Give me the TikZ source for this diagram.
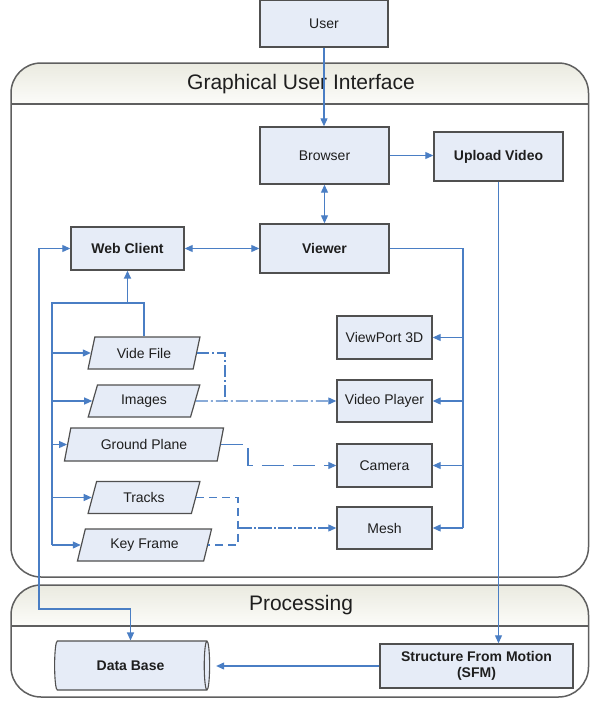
\documentclass[tikz,border=0pt]{standalone}
\usepackage{fontspec}
\setmainfont{Liberation Sans}
\usetikzlibrary{arrows.meta,shapes.geometric,calc}

\definecolor{boxfill}{RGB}{230,236,247}
\definecolor{boxline}{RGB}{80,80,80}
\definecolor{flowblue}{RGB}{74,126,196}
\definecolor{contline}{RGB}{95,95,95}
\definecolor{headtop}{RGB}{234,234,224}
\definecolor{headbot}{RGB}{252,252,249}
\definecolor{txt}{RGB}{30,30,30}

\begin{document}
\begin{tikzpicture}[x=1pt,y=1pt,
  font=\fontsize{14}{16}\selectfont, text=txt,
  blk/.style={draw=boxline, line width=1.4pt, fill=boxfill, inner sep=0pt, align=center},
  bold/.style={font=\fontsize{14}{16}\selectfont\bfseries},
  para/.style={trapezium, trapezium left angle=70, trapezium right angle=110,
    trapezium stretches=true, draw=boxline, line width=1.2pt, fill=boxfill,
    inner sep=0pt, minimum height=32pt},
  title/.style={font=\fontsize{21}{24}\selectfont},
  cont/.style={draw=contline, line width=1.5pt, rounded corners=30pt},
  flow/.style={draw=flowblue, line width=1.1pt},
  flowthick/.style={draw=flowblue, line width=1.7pt},
  tip/.style={-{Triangle[length=8pt,width=7pt]}},
  tips/.style={{Triangle[length=8pt,width=7pt]}-{Triangle[length=8pt,width=7pt]}},
  dashdot/.style={dash pattern=on 12pt off 3pt on 2pt off 3pt},
  longdash/.style={dash pattern=on 22pt off 9pt},
  shortdash/.style={dash pattern=on 8pt off 5pt},
  meshdash/.style={dash pattern=on 14pt off 2pt on 2pt off 2pt}
]
\useasboundingbox (0,0) rectangle (590,-704);

% ---- containers ----
\fill[white, rounded corners=30pt] (11,-63) rectangle (588.5,-577);
\begin{scope}
  \clip[rounded corners=30pt] (11,-63) rectangle (588.5,-577);
  \shade[top color=headtop, bottom color=headbot] (11,-63) rectangle (588.5,-104);
\end{scope}
\draw[contline, line width=1.5pt] (11,-104) -- (588.5,-104);
\draw[cont] (11,-63) rectangle (588.5,-577);
\node[title] (guititle) at (301,-84) {Graphical User Interface};

\fill[white, rounded corners=30pt] (11,-585) rectangle (588.5,-697);
\begin{scope}
  \clip[rounded corners=30pt] (11,-585) rectangle (588.5,-697);
  \shade[top color=headtop, bottom color=headbot] (11,-585) rectangle (588.5,-626);
\end{scope}
\draw[contline, line width=1.5pt] (11,-626) -- (588.5,-626);
\draw[cont] (11,-585) rectangle (588.5,-697);
\node[title] (proctitle) at (301,-605.5) {Processing};

% ---- boxes ----
\node[blk, minimum width=128pt, minimum height=47pt] (user) at (324,-23.5) {User};
\node[blk, minimum width=129pt, minimum height=57pt] (br) at (324.5,-155.5) {Browser};
\node[blk, bold, minimum width=129pt, minimum height=49pt] (up) at (498.5,-156.5) {Upload Video};
\node[blk, bold, minimum width=129pt, minimum height=49pt] (vw) at (324.5,-248.5) {Viewer};
\node[blk, bold, minimum width=113pt, minimum height=43pt] (wc) at (127.5,-248.5) {Web Client};

\node[blk, minimum width=95pt, minimum height=43pt] (vp) at (384.5,-337.5) {ViewPort 3D};
\node[blk, minimum width=95pt, minimum height=42pt] (vpl) at (384.5,-401) {Video Player};
\node[blk, minimum width=95pt, minimum height=43pt] (cam) at (384.5,-465.5) {Camera};
\node[blk, minimum width=95pt, minimum height=42pt] (mesh) at (384.5,-528) {Mesh};

\node[para, minimum width=112pt] (vf) at (144,-353) {Vide File};
\node[para, minimum width=112pt] (img) at (144,-401) {Images};
\node[para, minimum width=160pt, minimum height=33pt] (gp) at (144,-444.5) {Ground Plane};
\node[para, minimum width=112pt] (tr) at (144,-497.5) {Tracks};
\node[para, minimum width=135pt] (kf) at (144.5,-545) {Key Frame};

\node[blk, bold, minimum width=193pt, minimum height=44pt] (sfm) at (476.5,-666)
  {Structure From Motion\\(SFM)};
% horizontal cylinder: its size keys follow the shape's own axis
\node[cylinder, draw=boxline, line width=1.1pt, fill=boxfill, bold,
  minimum width=49pt, minimum height=155pt, aspect=0.55, inner sep=0pt] (db)
  at (130.5,-665.5) {Data Base};

% ---- connectors ----
\draw[flow, tip] (user.south) -- (user.south |- br.north);
\draw[flow, tip] (br.east) -- (br.east -| up.west);
\draw[flow, tips] (br.south) -- (br.south |- vw.north);
\draw[flow, tips] (wc.east) -- (vw.west);

\coordinate (rb) at (463,-528);
\draw[flowthick] (vw.east) -| (rb);
\draw[flow, tip] (vp.east -| rb) -- (vp.east);
\draw[flow, tip] (vpl.east -| rb) -- (vpl.east);
\draw[flow, tip] (cam.east -| rb) -- (cam.east);
\draw[flow, tip] (mesh.east -| rb) -- (mesh.east);

\draw[flow, tip] (up.south) -- (up.south |- sfm.north);
\draw[flow, tip, shorten >=6pt] (sfm.west) -- (sfm.west -| db.east);

\coordinate (ob) at (39,-609);
\draw[flow, tips] (wc.west) -| (ob) -| (db.north);

\coordinate (tb) at (52,-545);
\coordinate (jn) at (127.5,-303);
\draw[flowthick, tip] (tb) |- (jn) -- (wc.south);
\draw[flow] (vf.north) |- (jn);
\draw[flow, tip] (tb |- vf.west) -- (vf.west);
\draw[flow, tip] (tb |- img.west) -- (img.west);
\draw[flow, tip] (tb |- gp.west) -- (gp.west);
\draw[flow, tip] (tb |- tr.west) -- (tr.west);
\draw[flow, tip] (tb |- kf.west) -- (kf.west);

\coordinate (dx) at (225,0);
\draw[flow, dashdot] (vf.east) -| (dx |- img.east);
\draw[flow, dashdot, tip] (img.east) -- (vpl.west);

\coordinate (gx) at (248,0);
\draw[flow, longdash, tip] (gp.east) -| (gx |- cam.west) -- (cam.west);

\coordinate (tx) at (238,0);
\draw[flow, shortdash] (tr.east) -| (tx |- kf.east) -- (kf.east);
\draw[flow, meshdash, tip] (tx |- mesh.west) -- (mesh.west);
\end{tikzpicture}
\end{document}
